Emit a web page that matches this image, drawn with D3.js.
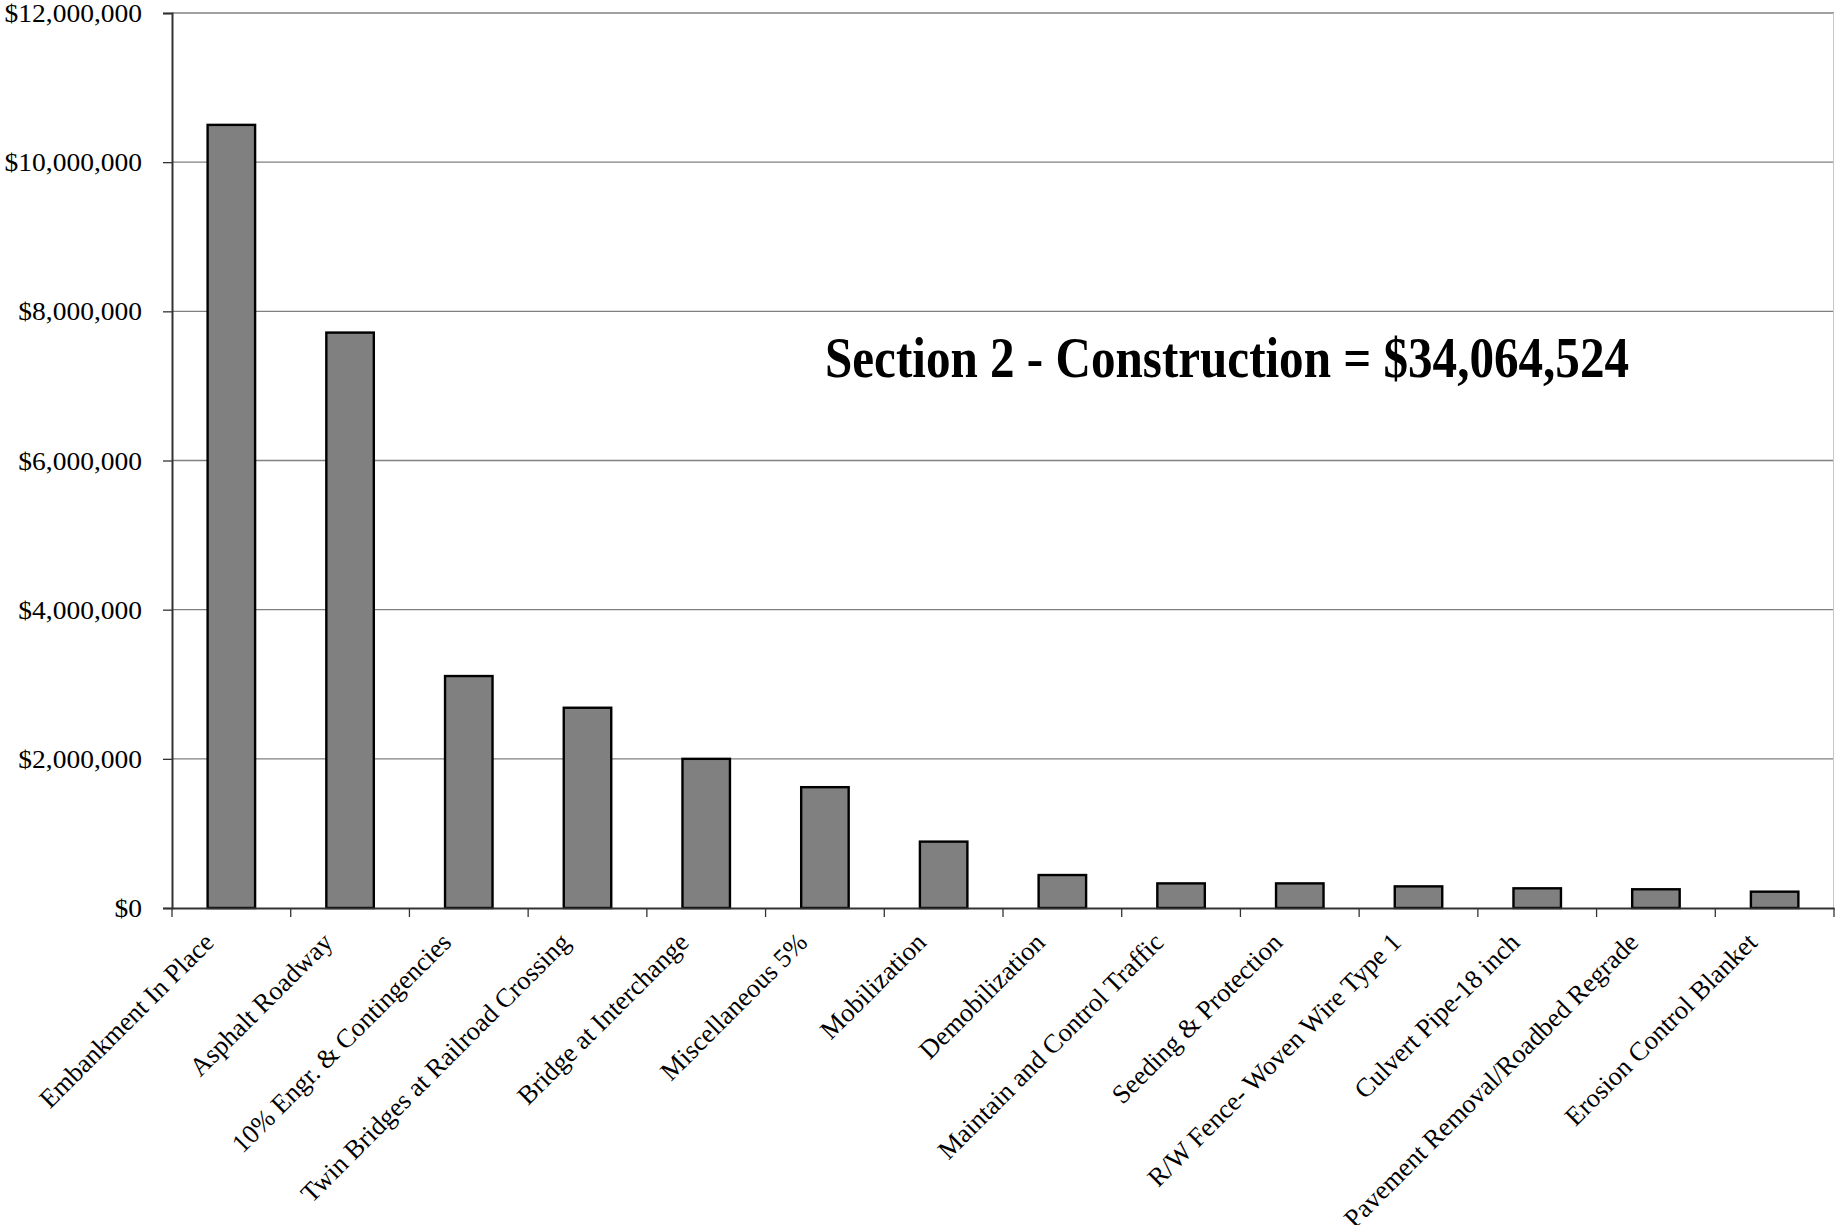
<!DOCTYPE html>
<html>
<head>
<meta charset="utf-8">
<script src="https://cdn.jsdelivr.net/npm/d3@7"></script>
<style>
  body { margin: 0; background: #fff; }
  svg { display: block; font-family: 'Liberation Serif', 'Times New Roman', serif; }
</style>
</head>
<body>
<svg id="chart" width="1835" height="1225"></svg>
<script>
const categories = [
  'Embankment In Place',
  'Asphalt Roadway',
  '10% Engr. & Contingencies',
  'Twin Bridges at Railroad Crossing',
  'Bridge at Interchange',
  'Miscellaneous 5%',
  'Mobilization',
  'Demobilization',
  'Maintain and Control Traffic',
  'Seeding & Protection',
  'R/W Fence- Woven Wire Type 1',
  'Culvert Pipe-18 inch',
  'Pavement Removal/Roadbed Regrade',
  'Erosion Control Blanket'
];
const costs = [
  10500000, 7715000, 3110000, 2685000, 2000000, 1620000, 890000,
  442000, 330000, 330000, 290000, 264000, 251000, 219000
];
const yTicks = [0, 2000000, 4000000, 6000000, 8000000, 10000000, 12000000];
const title = 'Section 2 - Construction = $34,064,524';

const margin = { left: 172, right: 1, top: 13, bottom: 317 };
const W = 1835, H = 1225;

const svg = d3.select('#chart');

const x = d3.scaleBand()
  .domain(categories)
  .range([margin.left, W - margin.right])
  .paddingInner(0.6)
  .paddingOuter(0.3);

const y = d3.scaleLinear()
  .domain([0, 12000000])
  .range([H - margin.bottom, margin.top]);

const fmt = d => '$' + d3.format(',')(d);

// gridlines
svg.append('g').classed('grid', true)
  .selectAll('line').data(yTicks.filter(d => d > 0))
  .enter().append('line')
  .attr('x1', margin.left).attr('x2', W - margin.right)
  .attr('y1', d => y(d)).attr('y2', d => y(d))
  .style('stroke', '#808080')
  .style('stroke-width', 1.3);

// right border of plot area
svg.append('line')
  .attr('x1', W - margin.right - 0.5).attr('x2', W - margin.right - 0.5)
  .attr('y1', y(12000000)).attr('y2', y(0))
  .style('stroke', '#c8c8c8')
  .style('stroke-width', 1);

// bars
svg.append('g').classed('bars', true)
  .selectAll('rect').data(costs)
  .enter().append('rect')
  .attr('x', (d, i) => x(categories[i]))
  .attr('y', d => y(d))
  .attr('width', x.bandwidth())
  .attr('height', d => y(0) - y(d))
  .attr('fill', '#808080')
  .style('stroke', '#000')
  .style('stroke-width', 2.4);

// y axis
const yAxis = svg.append('g')
  .attr('transform', `translate(${margin.left},0)`)
  .call(d3.axisLeft(y).tickValues(yTicks).tickSize(9).tickFormat(fmt));
yAxis.select('.domain').style('stroke', '#333').style('stroke-width', 2);
yAxis.selectAll('.tick line').style('stroke', '#333').style('stroke-width', 1.3);
yAxis.selectAll('.tick text')
  .attr('x', -30 / 1.1)
  .attr('dy', '0.34em')
  .attr('transform', 'scale(1.1,1)')
  .style('font-size', '25px')
  .style('font-family', "'Liberation Serif', 'Times New Roman', serif")
  .attr('fill', '#000');

// x axis
const xAxis = svg.append('g')
  .attr('transform', `translate(0,${y(0)})`)
  .call(d3.axisBottom(x).tickSize(0).tickSizeOuter(0));
xAxis.select('.domain').style('stroke', '#333').style('stroke-width', 2);
xAxis.selectAll('.tick text')
  .attr('x', 0).attr('y', 0).attr('dy', 0)
  .attr('text-anchor', 'end')
  .attr('transform', 'translate(-16,36) rotate(-45)')
  .style('font-size', '26.5px')
  .style('font-family', "'Liberation Serif', 'Times New Roman', serif")
  .attr('fill', '#000');

// category boundary ticks
const bounds = categories.map(c => x(c) - x.step() * 0.3).concat([W - margin.right]);
svg.append('g').classed('xticks', true)
  .selectAll('line').data(bounds)
  .enter().append('line')
  .attr('x1', d => d).attr('x2', d => d)
  .attr('y1', y(0)).attr('y2', y(0) + 9)
  .style('stroke', '#333')
  .style('stroke-width', 1.3);

// annotation
svg.append('text')
  .attr('x', 825).attr('y', 377)
  .attr('textLength', 804)
  .attr('lengthAdjust', 'spacingAndGlyphs')
  .style('font-size', '56px')
  .style('font-weight', 'bold')
  .text(title);
</script>
</body>
</html>
